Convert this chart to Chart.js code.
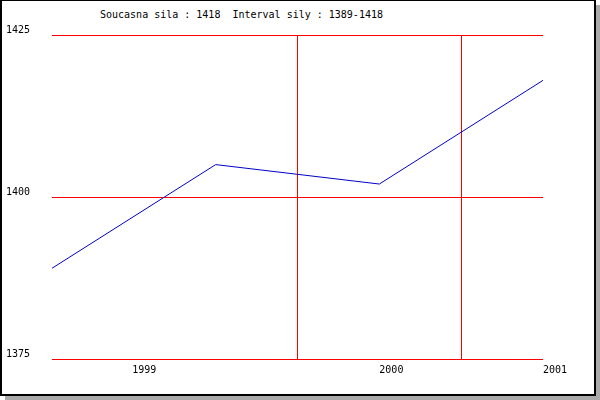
<!DOCTYPE html>
<html>
<head>
<meta charset="utf-8">
<script src="https://cdn.jsdelivr.net/npm/chart.js@4.4.1/dist/chart.umd.min.js"></script>
<style>
  html, body { margin: 0; padding: 0; background: #fff; }
  #wrap { position: relative; width: 600px; height: 400px; overflow: hidden; }
  #frame {
    position: absolute; left: 0; top: 0; width: 596px; height: 396px;
    box-sizing: border-box; border: 2px solid #000; border-top-width: 1px;
    background: #fff; box-shadow: 5px 5px 0 #aaaaaa;
  }
  #title {
    position: absolute; left: 100px; top: 9px; line-height: 12px;
    font: 10px "DejaVu Sans Mono", monospace; color: #000; white-space: pre;
  }
  #graf { position: absolute; left: 0; top: 0; }
</style>
</head>
<body>
<div id="wrap">
  <div id="frame"></div>
  <div id="title">Soucasna sila : 1418  Interval sily : 1389-1418</div>
  <canvas id="graf" width="600" height="400"></canvas>
</div>
<script>
// hodnoty sily v jednotlivych obdobich
const obdobi = [0, 1, 2, 3];
const sila = [1389, 1405, 1402, 1418];

// popisky osy x (roky) a kde stoji
const roky = ['1999', '2000', '2001'];
const rokyPozice = [0.49, 2, 3];
// svisle cary (hranice roku)
const hraniceRoku = [1.5, 2.5];

// osa y
const silaTicks = [1375, 1400, 1425];

const barvaMrizky = '#ff0000';
const pismo = { family: '"DejaVu Sans Mono", monospace', size: 10 };

const body = obdobi.map((x, i) => ({ x: x, y: sila[i] }));

new Chart(document.getElementById('graf').getContext('2d'), {
  type: 'line',
  data: {
    datasets: [{
      data: body,
      borderColor: '#0000c8',
      borderWidth: 1,
      pointRadius: 0,
      tension: 0,
      fill: false
    }]
  },
  options: {
    responsive: false,
    animation: false,
    layout: { padding: { left: 6, top: 35, right: 57, bottom: 21 } },
    plugins: {
      legend: { display: false },
      title: { display: false },
      tooltip: { enabled: false }
    },
    scales: {
      x: {
        type: 'linear',
        min: 0,
        max: 3,
        border: { display: false },
        afterBuildTicks: axis => {
          const vals = hraniceRoku.concat(rokyPozice).sort((a, b) => a - b);
          axis.ticks = vals.map(v => ({ value: v }));
        },
        afterFit: axis => { axis.height = 20; },
        grid: {
          drawTicks: false,
          tickLength: 0,
          lineWidth: 1,
          color: ctx => (ctx.tick && hraniceRoku.includes(ctx.tick.value)) ? barvaMrizky : 'rgba(0,0,0,0)'
        },
        ticks: {
          autoSkip: false,
          maxRotation: 0,
          align: 'start',
          padding: 5,
          color: '#000',
          font: pismo,
          callback: v => {
            const i = rokyPozice.indexOf(v);
            return i >= 0 ? roky[i] : '';
          }
        }
      },
      y: {
        type: 'linear',
        min: 1375,
        max: 1425,
        border: { display: false },
        afterBuildTicks: axis => {
          axis.ticks = silaTicks.map(v => ({ value: v }));
        },
        afterFit: axis => { axis.width = 46; },
        grid: {
          drawTicks: false,
          tickLength: 0,
          lineWidth: 1,
          color: barvaMrizky
        },
        ticks: {
          crossAlign: 'far',
          labelOffset: -5,
          color: '#000',
          font: pismo,
          callback: v => String(v)
        }
      }
    }
  }
});
</script>
</body>
</html>
